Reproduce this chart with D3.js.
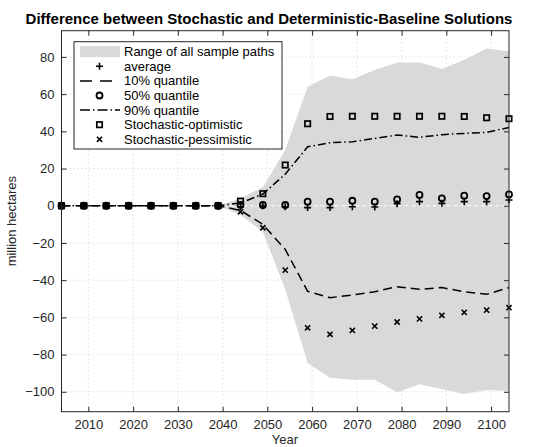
<!DOCTYPE html>
<html>
<head>
<meta charset="utf-8">
<script src="https://cdn.jsdelivr.net/npm/d3@7"></script>
<style>
  body { margin: 0; background: #fff; }
  text { font-family: "Liberation Sans", Arial, Helvetica, sans-serif; }
</style>
</head>
<body>
<svg id="chart" width="546" height="447"></svg>
<script>
const years = [2004, 2009, 2014, 2019, 2024, 2029, 2034, 2039, 2044, 2049, 2054,
               2059, 2064, 2069, 2074, 2079, 2084, 2089, 2094, 2099, 2104];
const rangeUpper = [0, 0, 0, 0, 0, 0, 0, 0, 4, 10, 30,
                    64, 70, 68, 73, 77, 77, 73.5, 78.5, 84.5, 83];
const rangeLower = [0, 0, 0, 0, 0, 0, 0, 0, -5, -14, -45,
                    -84.5, -92.5, -93.5, -93.5, -100.3, -96, -98.5, -101.2, -99, -99.6];
const average = [0, 0, 0, 0, 0, 0, 0, 0, -0.5, 0, -0.5,
                 -1, -1, -0.5, -0.7, 1.1, 2.2, 1.3, 2.2, 2.2, 3.1];
const q10 = [0, 0, 0, 0, 0, 0, 0, 0, -2.5, -10, -23.5,
             -46, -49.4, -48, -46.2, -43.5, -44.9, -44, -46.2, -47.6, -44];
const q50 = [0, 0, 0, 0, 0, 0, 0, 0, 0.5, 0.4, 0.4,
             2.2, 2.2, 2.7, 2.2, 3.4, 5.8, 4, 5.4, 5.2, 6.1];
const q90 = [0, 0, 0, 0, 0, 0, 0, 0, 1.5, 6.3, 17,
             31.7, 33.9, 34.4, 36.2, 38, 36.8, 38.2, 38.9, 39.4, 42.1];
const optimistic = [0, 0, 0, 0, 0, 0, 0, 0, 2.5, 6.5, 21.9,
                    44.1, 48, 48.1, 48.1, 48.1, 48.1, 48.1, 48, 47.3, 46.8];
const pessimistic = [0, 0, 0, 0, 0, 0, 0, 0, -3.2, -11.8, -34.6,
                     -65.6, -69.1, -67, -64.7, -62.5, -60.8, -58.9, -57.3, -56.1, -54.8];
const xTicks = [2010, 2020, 2030, 2040, 2050, 2060, 2070, 2080, 2090, 2100];
const yTicks = [-100, -80, -60, -40, -20, 0, 20, 40, 60, 80];
const legendLabels = ["Range of all sample paths", "average", "10% quantile", "50% quantile",
                      "90% quantile", "Stochastic-optimistic", "Stochastic-pessimistic"];
const titleText = "Difference between Stochastic and Deterministic-Baseline Solutions";

const svg = d3.select("#chart");
const L = 61.5, R = 509, T = 30.7, B = 411.7;
const x = d3.scaleLinear().domain([2004, 2104]).range([L, R]);
const y = d3.scaleLinear().domain([-110.7, 94.1]).range([B, T]);
const axisColor = "#262626";

// grid
const grid = svg.append("g");
grid.selectAll("line.gx").data(xTicks).join("line")
  .attr("x1", d => x(d)).attr("x2", d => x(d)).attr("y1", T).attr("y2", B)
  .attr("stroke", "#d0d0d0").attr("stroke-width", 1).attr("stroke-dasharray", "1,3");
grid.selectAll("line.gy").data(yTicks).join("line")
  .attr("x1", L).attr("x2", R).attr("y1", d => y(d)).attr("y2", d => y(d))
  .attr("stroke", "#d0d0d0").attr("stroke-width", 1).attr("stroke-dasharray", "1,3");

// range area
const idx = d3.range(years.length);
const area = d3.area().x(i => x(years[i])).y0(i => y(rangeLower[i])).y1(i => y(rangeUpper[i]));
svg.append("path").datum(idx).attr("d", area).attr("fill", "#d9d9d9");

// zero line (white dashed)
svg.append("line").attr("x1", L).attr("x2", R).attr("y1", y(0)).attr("y2", y(0))
  .attr("stroke", "#fff").attr("stroke-width", 1.2).attr("stroke-dasharray", "4,3");

// quantile lines
const lineOf = arr => d3.line().x(i => x(years[i])).y(i => y(arr[i]))(idx);
svg.append("path").attr("d", lineOf(q10)).attr("fill", "none")
  .attr("stroke", "#000").attr("stroke-width", 1.5).attr("stroke-dasharray", "9,5");
svg.append("path").attr("d", lineOf(q90)).attr("fill", "none")
  .attr("stroke", "#000").attr("stroke-width", 1.5).attr("stroke-dasharray", "8,3,1.5,3");

// marker drawers
function drawMarker(g, type, cx, cy) {
  if (type === "plus") {
    g.append("path").attr("d", `M${cx-3.5},${cy}H${cx+3.5}M${cx},${cy-3.5}V${cy+3.5}`)
      .attr("stroke", "#000").attr("stroke-width", 1.6).attr("fill", "none");
  } else if (type === "circle") {
    g.append("circle").attr("cx", cx).attr("cy", cy).attr("r", 3)
      .attr("stroke", "#000").attr("stroke-width", 1.8).attr("fill", "none");
  } else if (type === "square") {
    g.append("rect").attr("x", cx-2.7).attr("y", cy-2.7).attr("width", 5.4).attr("height", 5.4)
      .attr("stroke", "#000").attr("stroke-width", 1.7).attr("fill", "none");
  } else if (type === "x") {
    g.append("path").attr("d", `M${cx-2.6},${cy-2.6}L${cx+2.6},${cy+2.6}M${cx-2.6},${cy+2.6}L${cx+2.6},${cy-2.6}`)
      .attr("stroke", "#000").attr("stroke-width", 1.6).attr("fill", "none");
  }
}
const mk = svg.append("g");
[[average, "plus"], [q50, "circle"], [optimistic, "square"], [pessimistic, "x"]].forEach(([arr, t]) => {
  idx.forEach(i => drawMarker(mk, t, x(years[i]), y(arr[i])));
});

// box
svg.append("rect").attr("x", L).attr("y", T).attr("width", R - L).attr("height", B - T)
  .attr("fill", "none").attr("stroke", axisColor).attr("stroke-width", 1);

// axes with inward ticks
const fmt = d3.format("d");
const xAxis = svg.append("g").attr("transform", `translate(0,${B})`)
  .call(d3.axisBottom(x).tickValues(xTicks).tickFormat(fmt).tickSizeInner(-5).tickSizeOuter(0).tickPadding(8));
const xTop = svg.append("g").attr("transform", `translate(0,${T})`)
  .call(d3.axisTop(x).tickValues(xTicks).tickFormat("").tickSizeInner(-5).tickSizeOuter(0));
const yAxis = svg.append("g").attr("transform", `translate(${L},0)`)
  .call(d3.axisLeft(y).tickValues(yTicks).tickFormat(fmt).tickSizeInner(-5).tickSizeOuter(0).tickPadding(7));
const yRight = svg.append("g").attr("transform", `translate(${R},0)`)
  .call(d3.axisRight(y).tickValues(yTicks).tickFormat("").tickSizeInner(-5).tickSizeOuter(0));
[xAxis, xTop, yAxis, yRight].forEach(a => {
  a.select(".domain").remove();
  a.selectAll(".tick line").attr("stroke", axisColor);
  a.selectAll("text").attr("font-size", 13).attr("fill", axisColor)
    .attr("font-family", "'Liberation Sans', Arial, sans-serif");
});

// labels
svg.append("text").attr("x", 285).attr("y", 444).attr("text-anchor", "middle")
  .attr("font-size", 13).attr("fill", axisColor).text("Year");
svg.append("text").attr("transform", `translate(16,${(T + B) / 2}) rotate(-90)`)
  .attr("text-anchor", "middle").attr("font-size", 13).attr("fill", axisColor).text("million hectares");
svg.append("text").attr("x", 269).attr("y", 24).attr("text-anchor", "middle")
  .attr("font-size", 15).attr("font-weight", "bold").attr("fill", "#000").text(titleText);

// legend
const lg = svg.append("g");
lg.append("rect").attr("x", 74).attr("y", 41.7).attr("width", 208).attr("height", 107.3)
  .attr("fill", "#fff").attr("stroke", axisColor).attr("stroke-width", 1);
const rowY = i => 51.7 + i * 14.6;
const sx1 = 80, sx2 = 120, sxm = 99.5, tx = 124;
legendLabels.forEach((lab, i) => {
  lg.append("text").attr("x", tx).attr("y", rowY(i)).attr("dy", "0.35em")
    .attr("font-size", 13).attr("fill", "#000").text(lab);
});
lg.append("rect").attr("x", sx1).attr("y", rowY(0) - 5.5).attr("width", sx2 - sx1).attr("height", 11)
  .attr("fill", "#d9d9d9");
drawMarker(lg, "plus", sxm, rowY(1));
lg.append("line").attr("x1", sx1).attr("x2", sx2).attr("y1", rowY(2)).attr("y2", rowY(2))
  .attr("stroke", "#000").attr("stroke-width", 1.5).attr("stroke-dasharray", "12,8");
drawMarker(lg, "circle", sxm, rowY(3));
lg.append("line").attr("x1", sx1).attr("x2", sx2).attr("y1", rowY(4)).attr("y2", rowY(4))
  .attr("stroke", "#000").attr("stroke-width", 1.5).attr("stroke-dasharray", "10,3,1.5,3");
drawMarker(lg, "square", sxm, rowY(5));
drawMarker(lg, "x", sxm, rowY(6));
</script>
</body>
</html>
